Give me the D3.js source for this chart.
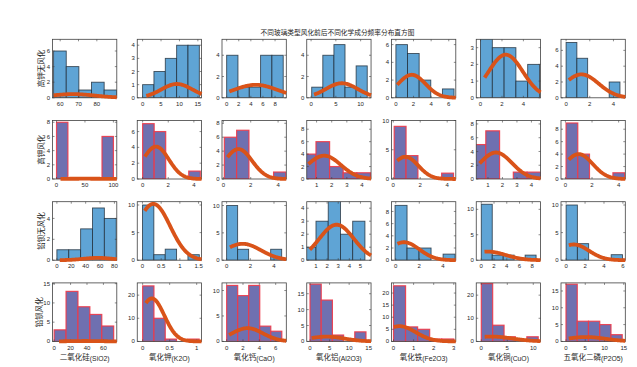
<!DOCTYPE html>
<html><head><meta charset="utf-8">
<script src="https://cdn.jsdelivr.net/npm/d3@7"></script>
<style>body{margin:0;background:#fff}</style>
</head><body><svg id="c" width="637" height="367"></svg>
<script>
// ---------- DATA ----------
const title = "不同玻璃类型风化前后不同化学成分频率分布直方图";
const groups = ["高钾无风化","高钾风化","铅钡无风化","铅钡风化"];
const componentsCN = ["二氧化硅","氧化钾","氧化钙","氧化铝","氧化铁","氧化铜","五氧化二磷"];
const componentsFormula = ["(SiO2)","(K2O)","(CaO)","(Al2O3)","(Fe2O3)","(CuO)","(P2O5)"];

// histogram counts (5 bins) per row, per component
const countsHighKUnweathered = [[6,4,1,2,1],[1,2,3,4,4],[4,1,1,4,4],[1,4,5,1,3],[6,5,2,0,1],[5,3,3,1,2],[7,5,0,0,2]];
const countsHighKWeathered   = [[8,0,0,0,6],[7,6,0,0,1],[6,7,0,0,1],[4,6,2,1,1],[9,4,0,0,1],[5,7,0,1,1],[9,4,0,0,1]];
const countsPbBaUnweathered  = [[1,1,3,5,4],[10,1,2,0,1],[10,2,0,0,2],[1,3,5,2,3],[9,2,2,0,1],[11,1,1,0,1],[10,3,0,0,1]];
const countsPbBaWeathered    = [[3,13,9,7,4],[24,10,1,0,1],[11,9,11,3,2],[18,13,2,0,3],[23,6,5,1,1],[25,7,2,0,2],[17,6,6,5,2]];

// first bin edge and bin width
const binStartRows = [
  [56.4,0,0,0.13,0,0,0],
  [0,0,0.07,0.06,0.07,-0.1,0.05],
  [0,0,0,-0.1,-0.06,0,0],
  [0,0,0,0,0,0,0]
];
const binWidthRows = [
  [6.9,3.08,1.87,2.24,1.32,1.1,0.91],
  [20,0.9,0.9,0.9,0.88,0.95,0.88],
  [16.5,0.304,0.93,1.1,1.02,1.72,1.19],
  [14.5,0.209,1.35,2.86,0.6,2.19,2.92]
];
// axis limits
const xLimRows = [
  [[55.8,90.9],[-1.45,16],[-0.77,9.86],[-0.87,12.1],[-0.5,6.8],[-0.4,5.6],[-0.43,5.0]],
  [[-7.1,106],[-0.42,4.6],[-0.1,4.6],[0.35,4.6],[-0.13,4.64],[0.19,4.63],[-0.33,4.5]],
  [[-6.1,83.3],[-0.14,1.58],[-0.39,5.04],[0.17,5.95],[-0.36,5.1],[-0.79,9.3],[-0.54,6.25]],
  [[-2,76.3],[-0.1,1.09],[-0.57,7.3],[-0.84,15.6],[-0.1,3.1],[-0.97,11.4],[-1.3,15.4]]
];
const yMaxRows = [
  [7.5,4.45,5.5,5.5,6.6,3.5,7.4],
  [8.25,7.4,8.4,9.4,10,8.5,9.4],
  [5.6,10.6,10.7,4.5,9.6,11.5,10.6],
  [15.2,25.3,11.5,18.4,24.2,25.3,17.4]
];
const xTickRows = [
  [[60,70,80],[0,5,10,15],[0,2,4,6,8],[0,5,10],[0,2,4,6],[0,2,4],[0,2,4]],
  [[0,50,100],[0,2,4],[0,2,4],[1,2,3,4],[0,2,4],[1,2,3,4],[0,2,4]],
  [[0,20,40,60,80],[0,0.5,1,1.5],[0,2,4],[1,2,3,4,5],[0,2,4],[0,2,4,6,8],[0,2,4,6]],
  [[0,20,40,60],[0,0.5,1],[0,2,4,6],[0,5,10,15],[0,1,2,3],[0,5,10],[0,5,10,15]]
];
const yTickRows = [
  [[0,2,4,6],[0,1,2,3,4],[0,2,4],[0,2,4],[0,2,4,6],[0,1,2,3],[0,2,4,6]],
  [[0,2,4,6,8],[0,2,4,6],[0,2,4,6,8],[0,2,4,6,8],[0,5,10],[0,2,4,6,8],[0,2,4,6,8]],
  [[0,2,4],[0,5,10],[0,5,10],[0,1,2,3,4],[0,2,4,6,8],[0,5,10],[0,5,10]],
  [[0,5,10,15],[0,10,20],[0,5,10],[0,5,10,15],[0,5,10,15,20],[0,10,20],[0,5,10,15]]
];
// fitted normal curves: mean, sd, peak height, x range
const curveMuRows    = [[67,9.3,4.8,6.2,1.8,2.35,1.3],[50,1.04,1.1,1.5,0.9,1.55,1.0],[57,0.29,1.35,2.85,0.7,1.0,0.8],[38,0.17,2.55,4.2,0.3,1.9,5.2]];
const curveSigmaRows = [[12,4.2,3.6,3.2,1.55,1.6,1.45],[40,1.0,1.0,1.1,0.95,1.1,1.05],[20,0.45,1.55,1.55,1.3,2.8,1.6],[18,0.23,1.9,4.5,0.8,4.0,5]];
const curvePeakRows  = [[0.47,1.05,1.22,1.37,2.6,2.58,2.96],[0.04,4.1,4.3,3.75,3.8,3.85,4.0],[0.22,10.2,3.0,2.73,2.95,1.7,2.85],[0.1,18.6,2.6,1.5,6.3,2.1,1.3]];
const curveFromRows  = [[56.4,1.0,0.44,0.6,0.15,0.38,0.23],[7,0.18,0.3,0.46,0.3,0.42,0.25],[4,0.06,0.28,0.44,0.14,0.5,0.29],[6,0.06,0.3,0.4,0.02,0.65,0.7]];

const countsRows = [countsHighKUnweathered,countsHighKWeathered,countsPbBaUnweathered,countsPbBaWeathered];

// ---------- LAYOUT / STYLE ----------
const svg = d3.select("#c");
const left0 = 52.5, colStep = 84.75, W = 64.3;
const top0 = 39.3, rowStep = 81.2, H = 58.5;
const blueFill = "#5fa4d5", blueEdge = "#1e2a36";
const purpleFill = "#6f70b0", redEdge = "#ee3848";
const curveColor = "#d95319", axisColor = "#404040", textColor = "#262626";
const latin = "'Liberation Sans', Arial, sans-serif";
const cjk = "'Noto Sans CJK SC', sans-serif";

svg.append("text").attr("x", 337.5).attr("y", 35).attr("text-anchor","middle")
  .attr("font-family", cjk).attr("font-size", 6.7).attr("fill", textColor).text(title);

const rowLabelX = [44.3, 44.3, 44.3, 41.8];

countsRows.forEach((rowCounts, r) => {
  rowCounts.forEach((counts, c) => {
    const x0 = left0 + c*colStep, y0 = top0 + r*rowStep;
    const g = svg.append("g").attr("transform", `translate(${x0},${y0})`);
    const xs = d3.scaleLinear().domain(xLimRows[r][c]).range([0, W]);
    const ys = d3.scaleLinear().domain([0, yMaxRows[r][c]]).range([H, 0]);
    const id = `clip${r}_${c}`;
    g.append("clipPath").attr("id", id).append("rect").attr("width", W).attr("height", H);
    const weathered = (r % 2 === 1);
    const bins = counts.map((v, i) => ({ a: binStartRows[r][c] + i*binWidthRows[r][c], b: binStartRows[r][c] + (i+1)*binWidthRows[r][c], v }));
    g.append("g").attr("clip-path", `url(#${id})`).selectAll("rect").data(bins.filter(d => d.v > 0)).join("rect")
      .attr("x", d => xs(d.a)).attr("width", d => xs(d.b) - xs(d.a))
      .attr("y", d => ys(d.v)).attr("height", d => H - ys(d.v))
      .attr("fill", weathered ? purpleFill : blueFill)
      .attr("stroke", weathered ? redEdge : blueEdge)
      .attr("stroke-width", weathered ? 1.2 : 0.9)
      .attr("stroke-opacity", weathered ? 0.9 : 0.8);

    // axes box
    g.append("rect").attr("width", W).attr("height", H).attr("fill","none")
      .attr("stroke", axisColor).attr("stroke-width", 0.8);
    const tl = 2;
    xTickRows[r][c].forEach(t => {
      const px = xs(t);
      g.append("line").attr("x1",px).attr("x2",px).attr("y1",H).attr("y2",H-tl).attr("stroke",axisColor).attr("stroke-width",0.6);
      g.append("line").attr("x1",px).attr("x2",px).attr("y1",0).attr("y2",tl).attr("stroke",axisColor).attr("stroke-width",0.6);
      g.append("text").attr("x",px).attr("y",H+8.2).attr("text-anchor","middle")
        .attr("font-family",latin).attr("font-size",6).attr("fill",textColor).text(t);
    });
    yTickRows[r][c].forEach(t => {
      const py = ys(t);
      g.append("line").attr("x1",0).attr("x2",tl).attr("y1",py).attr("y2",py).attr("stroke",axisColor).attr("stroke-width",0.6);
      g.append("line").attr("x1",W).attr("x2",W-tl).attr("y1",py).attr("y2",py).attr("stroke",axisColor).attr("stroke-width",0.6);
      g.append("text").attr("x",-2.5).attr("y",py).attr("dy","0.35em").attr("text-anchor","end")
        .attr("font-family",latin).attr("font-size",6).attr("fill",textColor).text(t);
    });

    // fitted curve
    const mu = curveMuRows[r][c], sd = curveSigmaRows[r][c], pk = curvePeakRows[r][c];
    const xa = curveFromRows[r][c], xb = xLimRows[r][c][1];
    const pts = d3.range(0, 81).map(i => { const x = xa + (xb - xa)*i/80; return [x, pk*Math.exp(-((x-mu)*(x-mu))/(2*sd*sd))]; });
    g.append("path").datum(pts)
      .attr("d", d3.line().x(d => xs(d[0])).y(d => ys(d[1])))
      .attr("fill","none").attr("stroke",curveColor).attr("stroke-width",3.8).attr("stroke-linejoin","round");

    if (c === 0) {
      svg.append("text").attr("transform", `translate(${rowLabelX[r]},${y0 + H/2}) rotate(-90)`)
        .attr("text-anchor","middle").attr("font-family",cjk).attr("font-size",7.5).attr("fill",textColor)
        .text(groups[r]);
    }
    if (r === 3) {
      const t = svg.append("text").attr("x", x0 + W/2).attr("y", 359.5).attr("text-anchor","middle")
        .attr("fill", textColor);
      t.append("tspan").attr("font-family",cjk).attr("font-size",7.5).text(componentsCN[c]);
      t.append("tspan").attr("font-family",latin).attr("font-size",6.8).attr("dy",1).text(componentsFormula[c]);
    }
  });
});
</script>
</body></html>
